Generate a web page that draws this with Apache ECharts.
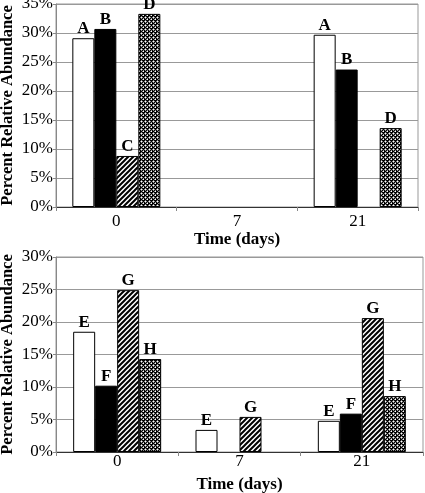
<!DOCTYPE html>
<html><head><meta charset="utf-8">
<script src="https://cdn.jsdelivr.net/npm/echarts@6/dist/echarts.min.js"></script>
<style>html,body{margin:0;padding:0;background:#fff}#c{width:425px;height:493px}</style>
</head><body><div id="c"></div>
<script>
const categories = ['0', '7', '21'];
const yTicksTop = [0, 5, 10, 15, 20, 25, 30, 35];
const yTicksBottom = [0, 5, 10, 15, 20, 25, 30];
const topA = [29.1, null, 29.7];
const topB = [30.7, null, 23.7];
const topC = [8.8, null, null];
const topD = [33.3, null, 13.6];
const botE = [18.5, 3.4, 4.8];
const botF = [10.2, null, 5.9];
const botG = [24.9, 5.4, 20.6];
const botH = [14.3, null, 8.6];
const topNames = ['A', 'B', 'C', 'D'];
const botNames = ['E', 'F', 'G', 'H'];

function hatch() {
  const c = document.createElement('canvas'); c.width = 5; c.height = 5;
  const g = c.getContext('2d');
  g.fillStyle = '#fff'; g.fillRect(0, 0, 5, 5);
  g.strokeStyle = '#000'; g.lineWidth = 2;
  g.beginPath();
  g.moveTo(-1, 6); g.lineTo(6, -1);
  g.moveTo(-1, 1); g.lineTo(1, -1);
  g.moveTo(4, 6); g.lineTo(6, 4);
  g.stroke();
  return c;
}
function dots() {
  const c = document.createElement('canvas'); c.width = 4; c.height = 4;
  const g = c.getContext('2d');
  g.fillStyle = '#000'; g.fillRect(0, 0, 4, 4);
  g.fillStyle = '#888';
  g.fillRect(0, 1, 3, 1); g.fillRect(1, 0, 1, 3);
  g.fillRect(2, 3, 3, 1); g.fillRect(3, 2, 1, 3);
  g.fillStyle = '#fff';
  g.fillRect(1, 1, 1, 1); g.fillRect(3, 3, 1, 1);
  return c;
}
const fills = ['#ffffff', '#000000', { image: hatch(), repeat: 'repeat' }, { image: dots(), repeat: 'repeat' }];
const serif = '"Liberation Serif","Times New Roman",serif';

function mkSeries(names, datas, idx) {
  return names.map((n, i) => ({
    name: n, type: 'bar', xAxisIndex: idx, yAxisIndex: idx,
    data: datas[i], barWidth: 22, barGap: '0%',
    itemStyle: { color: fills[i], borderColor: '#000', borderWidth: 1 },
    label: { show: true, position: 'top', distance: 1, formatter: n,
      fontFamily: serif, fontWeight: 'bold', fontSize: 17, color: '#000' }
  }));
}
function mkX(idx, margin) {
  return {
    type: 'category', gridIndex: idx, data: categories,
    axisLine: { lineStyle: { color: '#333', width: 1 } },
    axisTick: { show: true, length: 4, lineStyle: { color: '#888' } },
    axisLabel: { fontFamily: serif, fontSize: 17, color: '#000', margin: margin },
    name: 'Time (days)', nameLocation: 'middle', nameGap: 24, nameMoveOverlap: false,
    nameTextStyle: { fontFamily: serif, fontWeight: 'bold', fontSize: 17, color: '#000' }
  };
}
function mkY(idx, ticks) {
  return {
    type: 'value', gridIndex: idx, min: ticks[0], max: ticks[ticks.length - 1], interval: ticks[1] - ticks[0],
    axisLine: { show: true, lineStyle: { color: '#888' } },
    axisTick: { show: true, length: 3, lineStyle: { color: '#888' } },
    axisLabel: { formatter: '{value}%', fontFamily: serif, fontSize: 17, color: '#000', margin: 3 },
    splitLine: { show: true, lineStyle: { color: '#999', width: 1 } },
    name: 'Percent Relative Abundance', nameLocation: 'middle', nameGap: 40, nameRotate: 90, nameMoveOverlap: false,
    nameTextStyle: { fontFamily: serif, fontWeight: 'bold', fontSize: 16.5, color: '#000' }
  };
}
const chart = echarts.init(document.getElementById('c'), null, { renderer: 'canvas' });
chart.setOption({
  animation: false,
  backgroundColor: '#fff',
  grid: [
    { left: 56, top: 4, width: 362, height: 203, show: true, borderColor: '#999', borderWidth: 1, backgroundColor: 'transparent', containLabel: false, outerBoundsMode: 'none' },
    { left: 56, top: 257, width: 367, height: 195, show: true, borderColor: '#999', borderWidth: 1, backgroundColor: 'transparent', containLabel: false, outerBoundsMode: 'none' }
  ],
  xAxis: [mkX(0, 6), mkX(1, 1)],
  yAxis: [mkY(0, yTicksTop), mkY(1, yTicksBottom)],
  series: mkSeries(topNames, [topA, topB, topC, topD], 0).concat(mkSeries(botNames, [botE, botF, botG, botH], 1))
});
</script></body></html>
